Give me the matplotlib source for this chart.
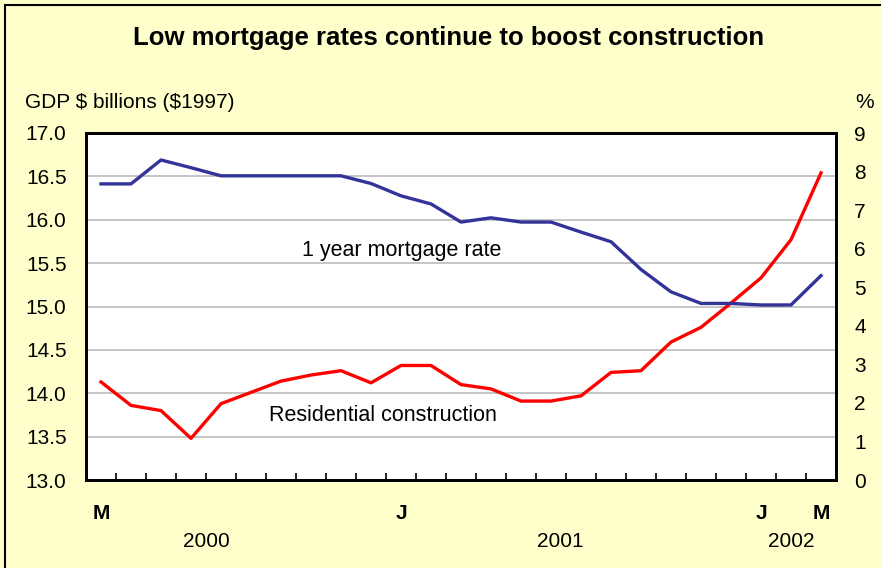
import numpy as np
import matplotlib.pyplot as plt
from matplotlib.patches import Rectangle

plt.rcParams['font.family'] = ['Liberation Sans', 'DejaVu Sans']

# monthly, March 2000 to March 2002
months = ['M', '', '', '', '', '', '', '', '', '', 'J', '', '', '', '', '', '', '', '', '', '', '', 'J', '', 'M']
residential = [14.13, 13.86, 13.80, 13.48, 13.88, 14.01, 14.14, 14.21, 14.26, 14.12,
               14.32, 14.32, 14.10, 14.05, 13.91, 13.91, 13.97, 14.24, 14.26, 14.59,
               14.76, 15.04, 15.33, 15.77, 16.54]
mortgage = [7.68, 7.68, 8.30, 8.10, 7.89, 7.89, 7.89, 7.89, 7.89, 7.69,
            7.37, 7.16, 6.69, 6.80, 6.69, 6.69, 6.43, 6.18, 5.46, 4.88,
            4.58, 4.58, 4.54, 4.54, 5.30]
years = ['2000', '2001', '2002']
year_pos = [3.5, 15.3, 23.0]
left_ticks = [13.0, 13.5, 14.0, 14.5, 15.0, 15.5, 16.0, 16.5, 17.0]
right_ticks = list(range(0, 10))

bg = '#FFFFCC'
fig = plt.figure(figsize=(8.81, 5.68), dpi=100, facecolor=bg)
fig.patches.append(Rectangle((5 / 881, -0.1), 1.2, 1 - 5 / 568 + 0.1, transform=fig.transFigure,
                             fill=False, edgecolor='black', linewidth=1.5))

ax = fig.add_axes([86 / 881, 1 - 480 / 568, 750 / 881, 347 / 568])
ax2 = ax.twinx()
x = np.arange(len(months))

ax.set_facecolor('white')
for v in left_ticks[1:-1]:
    ax.axhline(v, color='#C0C0C0', linewidth=1.3, zorder=1)
ax.plot(x, residential, color='#FF0000', linewidth=2.4, zorder=3)
ax2.plot(x, mortgage, color='#333399', linewidth=2.4, zorder=3)

ax.set_xlim(-0.5, len(months) - 0.5)
ax.set_ylim(13, 17)
ax2.set_ylim(0, 9)
ax.set_yticks(left_ticks)
ax.set_yticklabels(['%.1f' % v for v in left_ticks], fontsize=15)
ax2.set_yticks(right_ticks)
ax2.set_yticklabels([str(v) for v in right_ticks], fontsize=15)
ax.tick_params(axis='y', length=0, pad=14)
ax2.tick_params(axis='y', length=0, pad=13)

ax.set_xticks(np.arange(-0.5, len(months)), minor=True)
ax.set_xticks(x)
ax.set_xticklabels(months, fontsize=15, fontweight='bold')
ax.tick_params(axis='x', which='major', length=0, pad=17)
ax.tick_params(axis='x', which='minor', length=5, width=1.2, direction='in')

for a in (ax, ax2):
    for s in a.spines.values():
        s.set_linewidth(2)
        s.set_color('black')

for xp, yr in zip(year_pos, years):
    ax.text(xp, -0.176, yr, transform=ax.get_xaxis_transform(), ha='center', va='center', fontsize=15)

ax.text(9.4, 13.74, 'Residential construction', ha='center', va='center', fontsize=15.5)
ax2.text(10.03, 5.96, '1 year mortgage rate', ha='center', va='center', fontsize=15.5)

fig.text(449 / 881, 1 - 38 / 568, 'Low mortgage rates continue to boost construction',
         ha='center', va='center', fontsize=18.5, fontweight='bold')
fig.text(25 / 881, 1 - 102 / 568, r'GDP \$ billions (\$1997)', ha='left', va='center', fontsize=15)
fig.text(855 / 881, 1 - 102 / 568, '%', ha='left', va='center', fontsize=15)

fig.savefig('out.png', dpi=100, facecolor=bg)
